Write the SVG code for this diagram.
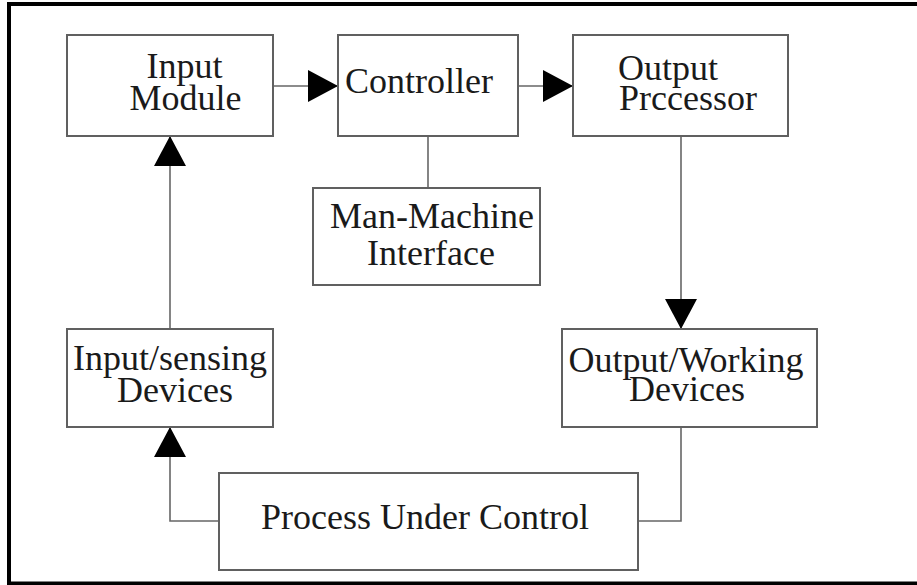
<svg xmlns="http://www.w3.org/2000/svg" width="917" height="585" viewBox="0 0 917 585">
<style>
.box{fill:#fff;stroke:#606060;stroke-width:2}
.lbl{font-family:"Liberation Serif","Times New Roman",serif;font-size:36px;fill:#1a1a1a;text-anchor:middle}
.con{fill:none;stroke:#666;stroke-width:1.6}
</style>
<defs>
<marker id="ah" markerUnits="userSpaceOnUse" markerWidth="30" markerHeight="32" refX="30" refY="16" orient="auto" viewBox="0 0 30 32">
<path d="M0,0 L30,16 L0,32 Z" fill="#000"/>
</marker>
</defs>
<rect x="9" y="4" width="920" height="579.5" fill="#fff" stroke="#000" stroke-width="4"/>
<g id="connectors">
<path class="con" d="M273,86 H338" marker-end="url(#ah)"/>
<path class="con" d="M518,86 H573" marker-end="url(#ah)"/>
<path class="con" d="M428,136 V188"/>
<path class="con" d="M681,136 V329" marker-end="url(#ah)"/>
<path class="con" d="M681,427 V521 H638"/>
<path class="con" d="M219,521 H170 V427" marker-end="url(#ah)"/>
<path class="con" d="M170,329 V136" marker-end="url(#ah)"/>
</g>
<g id="input-module">
<rect class="box" x="67" y="35" width="206" height="101"/>
<text class="lbl"><tspan x="184.5" y="78">Input</tspan><tspan x="185.5" y="110">Module</tspan></text>
</g>
<g id="controller">
<rect class="box" x="338" y="35" width="180" height="101"/>
<text class="lbl" x="419" y="93">Controller</text>
</g>
<g id="output-processor">
<rect class="box" x="573" y="35" width="215" height="101"/>
<text class="lbl"><tspan x="668" y="80">Output</tspan><tspan x="688" y="110">Prccessor</tspan></text>
</g>
<g id="man-machine-interface">
<rect class="box" x="313" y="188" width="227" height="97"/>
<text class="lbl"><tspan x="432" y="228">Man-Machine</tspan><tspan x="431" y="265">Interface</tspan></text>
</g>
<g id="input-sensing-devices">
<rect class="box" x="67" y="329" width="206" height="98"/>
<text class="lbl"><tspan x="170" y="370">Input/sensing</tspan><tspan x="175" y="402">Devices</tspan></text>
</g>
<g id="output-working-devices">
<rect class="box" x="562" y="329" width="255" height="98"/>
<text class="lbl"><tspan x="686" y="372">Output/Working</tspan><tspan x="687" y="401">Devices</tspan></text>
</g>
<g id="process-under-control">
<rect class="box" x="219" y="473" width="419" height="97"/>
<text class="lbl" x="425" y="529">Process Under Control</text>
</g>
</svg>
